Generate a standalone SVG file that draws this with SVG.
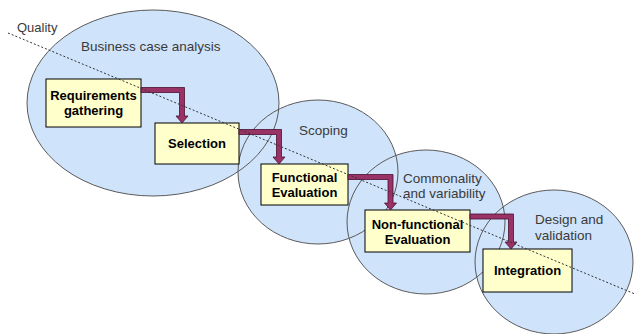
<svg xmlns="http://www.w3.org/2000/svg" width="635" height="334" viewBox="0 0 635 334">
  <style>
    .phase { fill: #cfe3fb; stroke: none; }
    .phase-edge { fill: none; stroke: #5a5a5a; stroke-width: 1; }
    .label { font-family: "Liberation Sans", Arial, sans-serif; font-size: 13.5px; fill: #3a3a3a; }
    .box { fill: #ffffcc; stroke: #000; stroke-width: 1; }
    .box-text { font-family: "Liberation Sans", Arial, sans-serif; font-size: 13px; font-weight: bold; fill: #000; text-anchor: middle; }
    .flow { fill: #993366; stroke: #4a1030; stroke-width: 0.8; stroke-linejoin: miter; }
    .quality { fill: none; stroke: #333; stroke-width: 1; stroke-dasharray: 2 2; }
  </style>

  <rect width="635" height="334" fill="#fff"/>

  <!-- phase areas: fills first, then outlines so every overlapping edge stays visible -->
  <g id="phases">
    <g id="phase-business">
      <ellipse class="phase" cx="153" cy="103" rx="126" ry="93"/>
      <text class="label" x="81" y="51">Business case analysis</text>
    </g>
    <g id="phase-scoping">
      <ellipse class="phase" cx="318" cy="172" rx="80" ry="72"/>
      <text class="label" x="299" y="135">Scoping</text>
    </g>
    <g id="phase-commonality">
      <ellipse class="phase" cx="426" cy="222" rx="79" ry="72"/>
      <text class="label" x="403" y="183">Commonality</text>
      <text class="label" x="403" y="198">and variability</text>
    </g>
    <g id="phase-design">
      <ellipse class="phase" cx="554" cy="262" rx="79" ry="72"/>
      <text class="label" x="535" y="224">Design and</text>
      <text class="label" x="535" y="240">validation</text>
    </g>
    <g id="phase-outlines">
      <ellipse class="phase-edge" cx="153" cy="103" rx="126" ry="93"/>
      <ellipse class="phase-edge" cx="318" cy="172" rx="80" ry="72"/>
      <ellipse class="phase-edge" cx="426" cy="222" rx="79" ry="72"/>
      <ellipse class="phase-edge" cx="554" cy="262" rx="79" ry="72"/>
    </g>
  </g>

  <!-- activity boxes -->
  <g id="requirements">
    <rect class="box" x="46" y="79" width="95" height="48"/>
    <text class="box-text" x="93.5" y="100">Requirements</text>
    <text class="box-text" x="93.5" y="115">gathering</text>
  </g>
  <g id="selection">
    <rect class="box" x="155" y="123" width="84" height="41"/>
    <text class="box-text" x="197" y="148">Selection</text>
  </g>
  <g id="functional">
    <rect class="box" x="261" y="164" width="87" height="41"/>
    <text class="box-text" x="304.5" y="182">Functional</text>
    <text class="box-text" x="304.5" y="197">Evaluation</text>
  </g>
  <g id="nonfunctional">
    <rect class="box" x="365" y="210" width="105" height="42"/>
    <text class="box-text" x="417.5" y="229">Non-functional</text>
    <text class="box-text" x="417.5" y="244">Evaluation</text>
  </g>
  <g id="integration">
    <rect class="box" x="483" y="249" width="89" height="43"/>
    <text class="box-text" x="527.5" y="275">Integration</text>
  </g>

  <!-- elbow flow arrows between activities -->
  <g id="connectors">
    <path class="flow" d="M141,87.5 H184.5 V116 H188 L182,123 L176,116 H179.5 V92.5 H141 Z"/>
    <path class="flow" d="M239,129.5 H281.5 V157 H285 L279,164 L273,157 H276.5 V134.5 H239 Z"/>
    <path class="flow" d="M348,174.5 H393 V203 H396.5 L390.5,210 L384.5,203 H388 V179.5 H348 Z"/>
    <path class="flow" d="M470,214 H513.5 V242 H517 L511,249 L505,242 H508.5 V219 H470 Z"/>
  </g>

  <!-- quality trend line -->
  <g id="quality">
    <line class="quality" x1="8" y1="33" x2="635" y2="294"/>
    <text class="label" x="17" y="32" style="font-size:13px">Quality</text>
  </g>
</svg>
